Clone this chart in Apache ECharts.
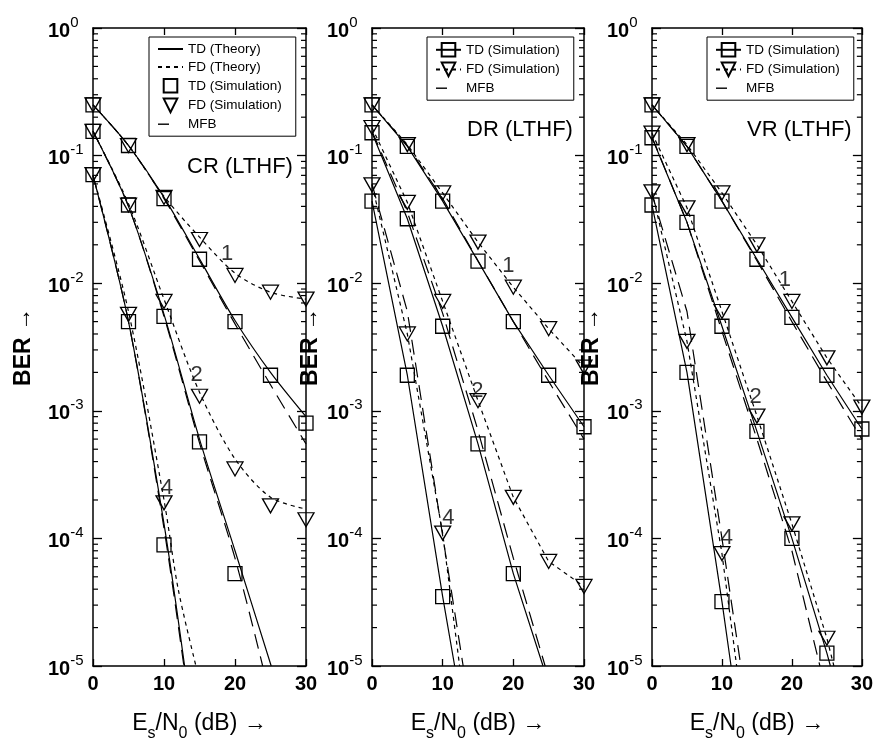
<!DOCTYPE html>
<html><head><meta charset="utf-8">
<script src="https://cdn.jsdelivr.net/npm/echarts@6/dist/echarts.min.js"></script>
<style>html,body{margin:0;padding:0;background:#fff}#c{width:876px;height:747px}</style>
</head><body><div id="c"></div>
<script>
// ---------- axis ticks ----------
const X_TICKS = [0, 10, 20, 30];
const Y_DECADES = [-5, -4, -3, -2, -1];
const Y_MINOR_MANTISSA = [2, 3, 4, 5, 6, 7, 8, 9];

// ---------- Panel 1 : CR (LTHF) ----------
const cr_tdTheory_1 = [[0,0.25],[5,0.12],[10,0.047],[15,0.0155],[20,0.0051],[25,0.002],[30,0.0009]];
const cr_tdTheory_2 = [[0,0.155],[5,0.04],[10,0.0057],[15,0.0006],[20,0.00008],[25.1,0.00001]];
const cr_tdTheory_4 = [[0,0.07],[5,0.005],[10,0.00013],[12.9,0.00001]];
const cr_fdTheory_1 = [[0,0.25],[5,0.12],[10,0.048],[15,0.023],[20,0.012],[25,0.0085],[30,0.0075]];
const cr_fdTheory_2 = [[0,0.155],[5,0.042],[10,0.0075],[15,0.0014],[20,0.00042],[25,0.00021],[30,0.00017]];
const cr_fdTheory_4 = [[0,0.07],[5,0.006],[10,0.0002],[12,0.00004],[14.5,0.00001]];
const cr_tdSim_1 = [[0,0.25],[5,0.12],[10,0.046],[15,0.0154],[20,0.005],[25,0.0019],[30,0.0008]];
const cr_tdSim_2 = [[0,0.155],[5,0.041],[10,0.0055],[15,0.00057],[20,0.000053]];
const cr_tdSim_4 = [[0,0.071],[5,0.005],[10,0.000089]];
const cr_fdSim_1 = [[0,0.25],[5,0.12],[10,0.047],[15,0.022],[20,0.0115],[25,0.0085],[30,0.0075]];
const cr_fdSim_2 = [[0,0.155],[5,0.041],[10,0.0072],[15,0.0013],[20,0.00035],[25,0.00018],[30,0.00014]];
const cr_fdSim_4 = [[0,0.071],[5,0.0057],[10,0.00019]];
const cr_mfb_1 = [[0,0.25],[5,0.12],[10,0.046],[15,0.015],[20,0.0048],[25,0.0016],[30,0.00055]];
const cr_mfb_2 = [[0,0.155],[5,0.04],[10,0.0055],[15,0.00056],[20,0.00007],[23.9,0.00001]];
const cr_mfb_4 = [[0,0.07],[5,0.005],[10,0.00012],[12.8,0.00001]];
const cr_labels = [[18.9,0.017,'1'],[14.6,0.0019,'2'],[10.4,0.00025,'4']];

// ---------- Panel 2 : DR (LTHF) ----------
const dr_tdSim_1 = [[0,0.25],[5,0.118],[10,0.044],[15,0.0149],[20,0.005],[25,0.0019],[30,0.00075]];
const dr_tdSim_2 = [[0,0.151],[5,0.032],[10,0.0046],[15,0.00055],[20,0.000053]];
const dr_tdSim_2_tail = [24.2,0.00001];
const dr_tdSim_4 = [[0,0.044],[5,0.0019],[10,0.000035]];
const dr_tdSim_4_tail = [11.7,0.00001];
const dr_fdSim_1 = [[0,0.25],[5,0.122],[10,0.051],[15,0.021],[20,0.0093],[25,0.0044],[30,0.0022]];
const dr_fdSim_2 = [[0,0.166],[5,0.043],[10,0.0072],[15,0.0012],[20,0.00021],[25,0.000066],[30,0.000042]];
const dr_fdSim_4 = [[0,0.059],[5,0.004],[10,0.00011]];
const dr_fdSim_4_tail = [12.4,0.00001];
const dr_mfb_1 = [[0,0.25],[5,0.12],[10,0.046],[15,0.015],[20,0.005],[25,0.0017],[30,0.0006]];
const dr_mfb_2 = [[0,0.155],[5,0.036],[10,0.0058],[15,0.0007],[20,0.00007],[24.5,0.00001]];
const dr_mfb_4 = [[0,0.06],[5,0.006],[10,0.000105],[12.9,0.00001]];
const dr_labels = [[19.3,0.0136,'1'],[14.9,0.00144,'2'],[10.8,0.000144,'4']];

// ---------- Panel 3 : VR (LTHF) ----------
const vr_tdSim_1 = [[0,0.25],[5,0.118],[10,0.044],[15,0.0154],[20,0.0054],[25,0.0019],[30,0.00072]];
const vr_tdSim_2 = [[0,0.138],[5,0.030],[10,0.0046],[15,0.00069],[20,0.0001],[25,0.0000126]];
const vr_tdSim_2_tail = [25.5,0.00001];
const vr_tdSim_4 = [[0,0.041],[5,0.002],[10,0.000032]];
const vr_tdSim_4_tail = [11.3,0.00001];
const vr_fdSim_1 = [[0,0.25],[5,0.122],[10,0.051],[15,0.02],[20,0.0072],[25,0.0026],[30,0.00107]];
const vr_fdSim_2 = [[0,0.15],[5,0.039],[10,0.006],[15,0.00091],[20,0.00013],[25,0.0000165]];
const vr_fdSim_2_tail = [26,0.00001];
const vr_fdSim_4 = [[0,0.052],[5,0.0035],[10,0.000076]];
const vr_fdSim_4_tail = [12.1,0.00001];
const vr_mfb_1 = [[0,0.25],[5,0.118],[10,0.044],[15,0.015],[20,0.005],[25,0.0017],[30,0.0006]];
const vr_mfb_2 = [[0,0.14],[5,0.03],[10,0.0042],[15,0.0006],[20,0.00008],[24,0.00001]];
const vr_mfb_4 = [[0,0.05],[5,0.006],[10,0.0001],[12.7,0.00001]];
const vr_labels = [[19.0,0.0107,'1'],[14.8,0.00129,'2'],[10.7,0.0001,'4']];

// ---------- styling / layout ----------
const FONT = '"Liberation Sans", Arial, Helvetica, sans-serif';
const TRI = 'path://M0,0 L16,0 L8,14 Z';
const HOLLOW = {color:'rgba(0,0,0,0)', borderColor:'#000', borderWidth:1.3};
const INVIS = {color:'rgba(0,0,0,0)', borderColor:'rgba(0,0,0,0)', borderWidth:0};
const DOT = [4,4], DASH = [15,8];
const PANELS = [
  {title:'CR (LTHF)', grid:{left:93,top:28,width:213,height:640}, nameGap:58, legend:{left:149,top:37}, tpos:{left:187,top:156}},
  {title:'DR (LTHF)', grid:{left:372,top:28,width:212,height:640}, nameGap:50, legend:{left:427,top:37}, tpos:{left:467,top:119}},
  {title:'VR (LTHF)', grid:{left:652,top:28,width:213,height:640}, nameGap:48, legend:{left:707,top:37}, tpos:{left:747,top:119}}
];
const MINOR = [];
Y_DECADES.forEach(d => Y_MINOR_MANTISSA.forEach(m => MINOR.push([0, m * Math.pow(10, d)])));

const grids = [], xAxes = [], yAxes = [], series = [], legends = [], titles = [];
PANELS.forEach((p, i) => {
  grids.push(Object.assign({containLabel:false}, p.grid));
  const axLine = {show:true, onZero:false, lineStyle:{color:'#000', width:1.5}};
  const tick = {show:true, inside:true, length:7, lineStyle:{color:'#000', width:1.3}};
  xAxes.push({type:'value', gridIndex:i, min:X_TICKS[0], max:X_TICKS[X_TICKS.length-1], interval:10, position:'bottom',
    axisLine:axLine, axisTick:tick, splitLine:{show:false},
    axisLabel:{margin:8, fontSize:20, fontWeight:'bold', color:'#000', fontFamily:FONT},
    name:'{m|E}{s|s}{m|/N}{s|0}{m| (dB) →}', nameLocation:'middle', nameGap:46,
    nameTextStyle:{color:'#000', fontFamily:FONT, rich:{
      m:{fontSize:23, fontFamily:FONT, color:'#000', verticalAlign:'bottom', padding:[0,0,7,0]},
      s:{fontSize:16, fontFamily:FONT, color:'#000', verticalAlign:'bottom'}}}
  });
  xAxes.push({type:'value', gridIndex:i, min:0, max:30, interval:10, position:'top',
    axisLine:axLine, axisTick:tick, axisLabel:{show:false}, splitLine:{show:false}});
  const ytick = {show:true, inside:true, length:9, lineStyle:{color:'#000', width:1.3}};
  yAxes.push({type:'log', logBase:10, gridIndex:i, min:1e-5, max:1, interval:1, position:'left',
    axisLine:axLine, axisTick:ytick, splitLine:{show:false}, minorTick:{show:false},
    axisLabel:{align:'left', margin:45, color:'#000',
      formatter: v => '{b|10}{e|' + Math.round(Math.log10(v)) + '}',
      rich:{ b:{fontSize:20, fontWeight:'bold', fontFamily:FONT, color:'#000', verticalAlign:'bottom'},
             e:{fontSize:15, fontFamily:FONT, color:'#000', verticalAlign:'bottom', padding:[0,0,11,0]} }},
    name:'BER →', nameLocation:'middle', nameGap:p.nameGap, nameRotate:90,
    nameTextStyle:{fontSize:23, fontWeight:'bold', fontFamily:FONT, color:'#000'}
  });
  yAxes.push({type:'log', logBase:10, gridIndex:i, min:1e-5, max:1, interval:1, position:'right',
    axisLine:axLine, axisTick:ytick, axisLabel:{show:false}, splitLine:{show:false}});
  // minor log ticks on both vertical edges
  series.push({type:'custom', xAxisIndex:2*i, yAxisIndex:2*i, silent:true, clip:false, z:1, data:MINOR,
    renderItem:(params, api) => {
      const y = api.coord([0, api.value(1)])[1];
      const cs = params.coordSys;
      const st = {stroke:'#000', lineWidth:1.2};
      return {type:'group', children:[
        {type:'line', shape:{x1:cs.x, y1:y, x2:cs.x+5, y2:y}, style:st},
        {type:'line', shape:{x1:cs.x+cs.width, y1:y, x2:cs.x+cs.width-5, y2:y}, style:st}]};
    }});
  titles.push({text:p.title, left:p.tpos.left, top:p.tpos.top, padding:0,
    textStyle:{fontSize:22, fontWeight:'normal', fontFamily:FONT, color:'#000'}});
});

const base = (gi) => ({xAxisIndex:2*gi, yAxisIndex:2*gi, silent:true, animation:false});
// plain curve (no markers); an invisible symbol keeps the legend icon a bare line
function line(gi, name, data, dash, smooth) {
  return Object.assign(base(gi), {type:'line', name, data, symbol:'rect', showSymbol:false, smooth:smooth||0, z:3,
    lineStyle:{color:'#000', width:1.2, type:dash}, itemStyle:INVIS});
}
// markers only (no connecting line)
function marks(gi, name, data, tri) {
  return Object.assign(base(gi), {type:'line', name, data, z:4, showSymbol:true,
    symbol: tri ? TRI : 'rect', symbolSize: tri ? [16,14] : 14, itemStyle:HOLLOW,
    lineStyle:{color:'#000', width:0, opacity:0}});
}
// markers joined by a line, optionally continued to the bottom edge
function simLine(gi, name, data, tail, dash, tri) {
  const d = data.slice();
  if (tail) d.push({value:tail, symbol:'none'});
  return Object.assign(base(gi), {type:'line', name, data:d, z:4, showSymbol:true,
    symbol: tri ? TRI : 'rect', symbolSize: tri ? [16,14] : 14, itemStyle:HOLLOW,
    lineStyle:{color:'#000', width:1.2, type:dash}});
}
function labels(gi, data) {
  return Object.assign(base(gi), {type:'scatter', name:'lbl'+gi, symbolSize:1, z:5,
    itemStyle:{color:'rgba(0,0,0,0)'},
    data: data.map(d => ({value:[d[0], d[1]], label:{formatter:d[2]}})),
    label:{show:true, position:'inside', fontSize:22, fontFamily:FONT, color:'#000'}});
}

// Panel 1
[cr_tdTheory_1, cr_tdTheory_2, cr_tdTheory_4].forEach(d => series.push(line(0, 'TD (Theory)', d, 'solid', 0.3)));
[cr_fdTheory_1, cr_fdTheory_2, cr_fdTheory_4].forEach(d => series.push(line(0, 'FD (Theory)', d, DOT, 0.3)));
[cr_tdSim_1, cr_tdSim_2, cr_tdSim_4].forEach(d => series.push(marks(0, 'TD (Simulation)', d, false)));
[cr_fdSim_1, cr_fdSim_2, cr_fdSim_4].forEach(d => series.push(marks(0, 'FD (Simulation)', d, true)));
[cr_mfb_1, cr_mfb_2, cr_mfb_4].forEach(d => series.push(line(0, 'MFB', d, DASH, 0.3)));
series.push(labels(0, cr_labels));

// Panel 2
series.push(simLine(1, 'TD (Simulation)#2', dr_tdSim_1, null, 'solid', false));
series.push(simLine(1, 'TD (Simulation)#2', dr_tdSim_2, dr_tdSim_2_tail, 'solid', false));
series.push(simLine(1, 'TD (Simulation)#2', dr_tdSim_4, dr_tdSim_4_tail, 'solid', false));
series.push(simLine(1, 'FD (Simulation)#2', dr_fdSim_1, null, DOT, true));
series.push(simLine(1, 'FD (Simulation)#2', dr_fdSim_2, null, DOT, true));
series.push(simLine(1, 'FD (Simulation)#2', dr_fdSim_4, dr_fdSim_4_tail, DOT, true));
[dr_mfb_1, dr_mfb_2, dr_mfb_4].forEach(d => series.push(line(1, 'MFB#2', d, DASH, 0)));
series.push(labels(1, dr_labels));

// Panel 3
series.push(simLine(2, 'TD (Simulation)#3', vr_tdSim_1, null, 'solid', false));
series.push(simLine(2, 'TD (Simulation)#3', vr_tdSim_2, vr_tdSim_2_tail, 'solid', false));
series.push(simLine(2, 'TD (Simulation)#3', vr_tdSim_4, vr_tdSim_4_tail, 'solid', false));
series.push(simLine(2, 'FD (Simulation)#3', vr_fdSim_1, null, DOT, true));
series.push(simLine(2, 'FD (Simulation)#3', vr_fdSim_2, vr_fdSim_2_tail, DOT, true));
series.push(simLine(2, 'FD (Simulation)#3', vr_fdSim_4, vr_fdSim_4_tail, DOT, true));
[vr_mfb_1, vr_mfb_2, vr_mfb_4].forEach(d => series.push(line(2, 'MFB#3', d, DASH, 0)));
series.push(labels(2, vr_labels));

const MFB_ICON = {type:[11,30], width:1.4, color:'#000'};
const legendBase = {orient:'vertical', itemWidth:25, itemHeight:17, itemGap:4, padding:[5,14,5,8],
  borderColor:'#000', borderWidth:1, backgroundColor:'#fff', selectedMode:false,
  textStyle:{fontSize:13.5, fontFamily:FONT, color:'#000'}, formatter: n => n.split('#')[0]};
legends.push(Object.assign({}, legendBase, PANELS[0].legend,
  {data:['TD (Theory)','FD (Theory)','TD (Simulation)','FD (Simulation)',{name:'MFB', lineStyle:MFB_ICON}]}));
legends.push(Object.assign({}, legendBase, PANELS[1].legend,
  {data:['TD (Simulation)#2','FD (Simulation)#2',{name:'MFB#2', lineStyle:MFB_ICON}]}));
legends.push(Object.assign({}, legendBase, PANELS[2].legend,
  {data:['TD (Simulation)#3','FD (Simulation)#3',{name:'MFB#3', lineStyle:MFB_ICON}]}));

const chart = echarts.init(document.getElementById('c'), null, {renderer:'canvas'});
chart.setOption({
  animation:false, backgroundColor:'#fff',
  title:titles, grid:grids, xAxis:xAxes, yAxis:yAxes, legend:legends, series:series
});
</script></body></html>
